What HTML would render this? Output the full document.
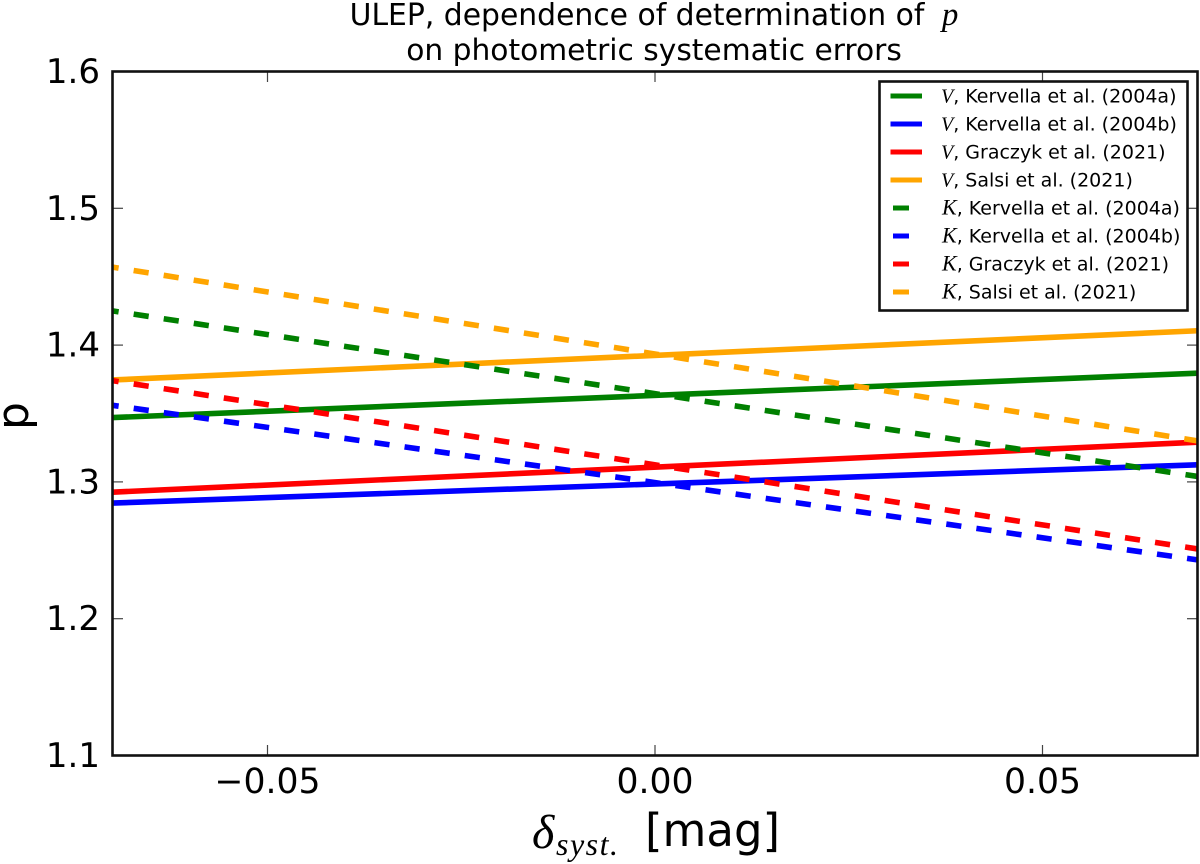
<!DOCTYPE html>
<html lang="en">
<head>
<meta charset="utf-8">
<title>ULEP, dependence of determination of p</title>
<style>
html,body{margin:0;padding:0;background:#fff;}
svg{display:block;font-family:"DejaVu Sans","Liberation Sans",sans-serif;fill:#000;}
.math{font-family:"Liberation Serif","DejaVu Serif",serif;font-style:italic;}
</style>
</head>
<body>
<svg id="chart" width="1200" height="864" viewBox="0 0 1200 864" xmlns="http://www.w3.org/2000/svg">
  <rect x="112.5" y="71.5" width="1085" height="684" fill="#fff"/>
  <g id="series"></g>
  <g id="ticks"></g>
  <rect x="112.5" y="71.5" width="1085" height="684" fill="none" stroke="#111" stroke-width="2.6"/>
  <text x="654" y="25" font-size="29.8" text-anchor="middle">ULEP, dependence of determination of <tspan class="math" font-size="33" dx="8">p</tspan></text>
  <text x="654" y="60" font-size="29.7" text-anchor="middle">on photometric systematic errors</text>
  <g>
    <text class="math" x="532" y="848" font-size="48">δ</text>
    <text class="math" x="556" y="855" font-size="32" letter-spacing="1.5">syst.</text>
    <text x="645" y="846" font-size="45">[mag]</text>
  </g>
  <text transform="translate(28,416) rotate(-90)" font-size="44" text-anchor="middle">p</text>
  <g id="legend">
    <rect x="879.5" y="81.5" width="308" height="229" fill="#fff" stroke="#111" stroke-width="2.6"/>
  </g>
</svg>
<script>
var xTicks = [-0.05, 0, 0.05];
var xTickLabels = ['\u22120.05', '0.00', '0.05'];
var yTicks = [1.1, 1.2, 1.3, 1.4, 1.5, 1.6];
var yTickLabels = ['1.1', '1.2', '1.3', '1.4', '1.5', '1.6'];
var xEnds = [-0.07, 0.07];
var vKervellaA = [1.347, 1.3795];
var vKervellaB = [1.2845, 1.3125];
var vGraczyk = [1.2925, 1.329];
var vSalsi = [1.3745, 1.4105];
var kKervellaA = [1.425, 1.304];
var kKervellaB = [1.356, 1.243];
var kGraczyk = [1.374, 1.251];
var kSalsi = [1.457, 1.330];
var seriesNames = ['Kervella et al. (2004a)', 'Kervella et al. (2004b)', 'Graczyk et al. (2021)', 'Salsi et al. (2021)'];

var NS = 'http://www.w3.org/2000/svg';
var colors = ['#008000', '#0000ff', '#ff0000', '#ffa500'];
function sx(v) { return 112.5 + (v + 0.07) / 0.14 * 1085; }
function sy(v) { return 755.5 - (v - 1.1) / 0.5 * 684; }
function make(tag, attrs, parent) {
  var el = document.createElementNS(NS, tag);
  for (var k in attrs) { el.setAttribute(k, attrs[k]); }
  parent.appendChild(el);
  return el;
}

var seriesGroup = document.getElementById('series');
function drawSeries(values, color, dashed, name) {
  var line = make('line', {
    x1: sx(xEnds[0]), y1: sy(values[0]), x2: sx(xEnds[1]), y2: sy(values[1]),
    stroke: color, 'stroke-width': 5.6,
    'stroke-dasharray': dashed ? '15.2 15.2' : 'none',
    'stroke-dashoffset': dashed ? 9 : 0
  }, seriesGroup);
  
  
}
drawSeries(vKervellaA, colors[0], false, 'line-v-kervella-2004a');
drawSeries(vKervellaB, colors[1], false, 'line-v-kervella-2004b');
drawSeries(vGraczyk, colors[2], false, 'line-v-graczyk-2021');
drawSeries(vSalsi, colors[3], false, 'line-v-salsi-2021');
drawSeries(kKervellaA, colors[0], true, 'line-k-kervella-2004a');
drawSeries(kKervellaB, colors[1], true, 'line-k-kervella-2004b');
drawSeries(kGraczyk, colors[2], true, 'line-k-graczyk-2021');
drawSeries(kSalsi, colors[3], true, 'line-k-salsi-2021');

var tickGroup = document.getElementById('ticks');
xTicks.forEach(function (t, i) {
  var x = sx(t);
  var low = make('line', {x1: x, y1: 755.5, x2: x, y2: 745, stroke: '#444', 'stroke-width': 1.2}, tickGroup);
  
  
  var high = make('line', {x1: x, y1: 71.5, x2: x, y2: 82, stroke: '#444', 'stroke-width': 1.2}, tickGroup);
  
  
  var label = make('text', {x: x, y: 793, 'font-size': 34.6, 'text-anchor': 'middle'}, tickGroup);
  
  
  label.textContent = xTickLabels[i];
});
yTicks.forEach(function (t, i) {
  var y = sy(t);
  var left = make('line', {x1: 112.5, y1: y, x2: 123, y2: y, stroke: '#444', 'stroke-width': 1.2}, tickGroup);
  
  
  var right = make('line', {x1: 1197.5, y1: y, x2: 1187, y2: y, stroke: '#444', 'stroke-width': 1.2}, tickGroup);
  
  
  var label = make('text', {x: 100, y: y + 11.5, 'font-size': 34, 'text-anchor': 'end'}, tickGroup);
  
  
  label.textContent = yTickLabels[i];
});

var legendGroup = document.getElementById('legend');
['V', 'K'].forEach(function (band, b) {
  seriesNames.forEach(function (name, i) {
    var y = 96 + (b * 4 + i) * 28;
    var handle = make('line', {
      x1: b ? 893 : 890.5, y1: y, x2: b ? 909 : 922, y2: y,
      stroke: colors[i], 'stroke-width': 5
    }, legendGroup);
    
    
    var text = make('text', {x: b ? 942 : 941, y: y + 6.5, 'font-size': 19}, legendGroup);
    
    
    var bandLabel = make('tspan', {'class': 'math', 'font-size': b ? 22 : 20}, text);
    bandLabel.textContent = band;
    var rest = document.createTextNode(', ' + name);
    text.appendChild(rest);
  });
});
</script>
</body>
</html>
